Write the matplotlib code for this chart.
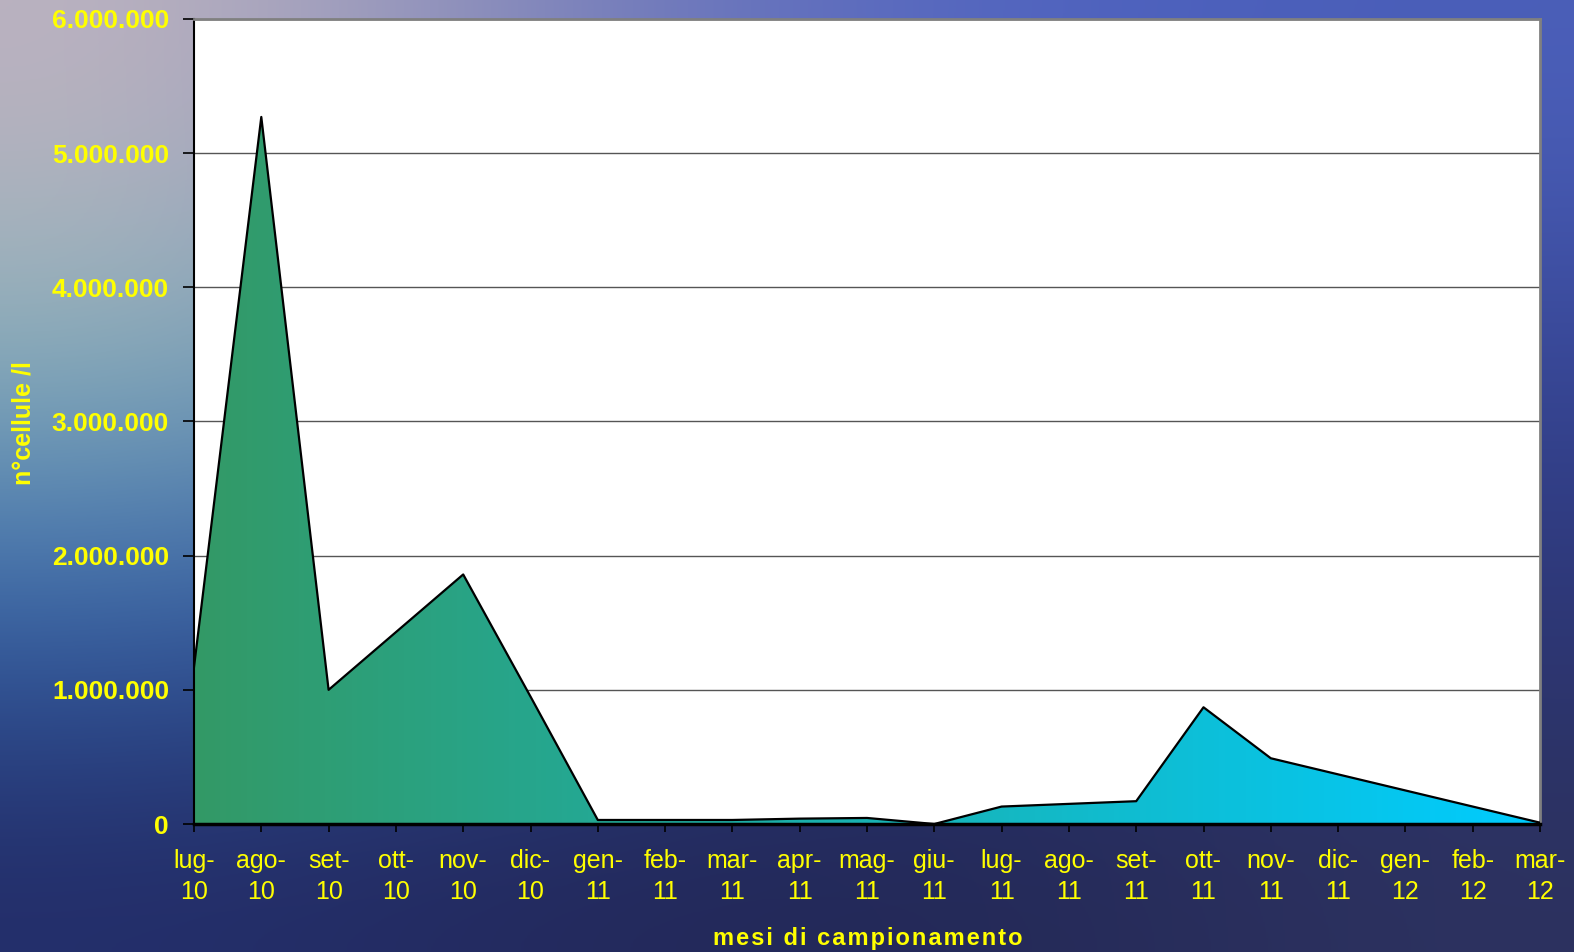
import numpy as np
import matplotlib.pyplot as plt
from matplotlib.colors import LinearSegmentedColormap
from matplotlib.ticker import FuncFormatter

plt.rcParams['font.family'] = ['Liberation Sans', 'DejaVu Sans']

# data
mesi = ["lug-\n10", "ago-\n10", "set-\n10", "ott-\n10", "nov-\n10", "dic-\n10",
        "gen-\n11", "feb-\n11", "mar-\n11", "apr-\n11", "mag-\n11", "giu-\n11",
        "lug-\n11", "ago-\n11", "set-\n11", "ott-\n11", "nov-\n11", "dic-\n11",
        "gen-\n12", "feb-\n12", "mar-\n12"]
cellule = [1170000, 5270000, 1000000, 1430000, 1860000, 950000,
           30000, 30000, 30000, 40000, 45000, 0,
           130000, 150000, 170000, 870000, 490000, 370000,
           250000, 130000, 10000]

yellow = "#FFFF00"

fig = plt.figure(figsize=(15.74, 9.52), dpi=100)

# background (sea photo approximation)
bg = fig.add_axes([0, 0, 1, 1])
bg_colors = np.array([
    [[190, 180, 192], [120, 125, 185], [80, 100, 195], [75, 95, 185]],
    [[140, 180, 185], [95, 140, 180], [60, 85, 165], [55, 70, 150]],
    [[55, 105, 175], [45, 75, 150], [40, 55, 125], [45, 55, 120]],
    [[35, 45, 105], [35, 40, 90], [35, 40, 85], [45, 50, 95]],
]) / 255.0
bg.imshow(bg_colors, aspect='auto', interpolation='bicubic', extent=(0, 1, 0, 1))
bg.set_xlim(0, 1)
bg.set_ylim(0, 1)
bg.axis('off')

ax = fig.add_axes([194 / 1574, 1 - 824 / 952, (1540 - 194) / 1574, (824 - 19) / 952])
ax.set_facecolor("white")

x = np.arange(len(cellule))

# gradient area fill
cmap = LinearSegmentedColormap.from_list("g", ["#339966", "#00CCFF"])
grad = np.linspace(0, 1, 256).reshape(1, -1)
im = ax.imshow(grad, cmap=cmap, aspect='auto', extent=(0, len(x) - 1, 0, 6000000), zorder=2)
poly = ax.fill_between(x, cellule, 0, facecolor='none', edgecolor='none')
im.set_clip_path(poly.get_paths()[0], transform=ax.transData)
ax.plot(x, cellule, color="black", lw=1.6, zorder=3)

ax.set_xlim(0, len(x) - 1)
ax.set_ylim(0, 6000000)
ax.set_yticks(np.arange(0, 6000001, 1000000))
ax.yaxis.set_major_formatter(FuncFormatter(lambda v, p: "{:,.0f}".format(v).replace(",", ".")))
ax.grid(axis='y', color="#555555", lw=1.0, zorder=1)
ax.set_axisbelow(True)

ax.set_xticks(x)
ax.set_xticklabels(mesi, color=yellow, fontsize=18, linespacing=1.35)
for lab in ax.get_yticklabels():
    lab.set_color(yellow)
    lab.set_fontsize(19)
    lab.set_fontweight('bold')

ax.tick_params(axis='y', direction='out', length=8, width=1.2, color="black", pad=10)
ax.tick_params(axis='x', direction='out', length=6, width=1.2, color="black", pad=12)

ax.spines['left'].set_color("black")
ax.spines['left'].set_linewidth(1.5)
ax.spines['bottom'].set_color("black")
ax.spines['bottom'].set_linewidth(2.5)
ax.spines['bottom'].set_zorder(4)
ax.spines['top'].set_color("#808080")
ax.spines['top'].set_linewidth(2)
ax.spines['right'].set_color("#808080")
ax.spines['right'].set_linewidth(2)

fig.text(868 / 1574, 1 - 939 / 952, "\u200a".join("mesi di campionamento"),
         color=yellow, fontsize=17, fontweight='bold', ha='center', va='center')
fig.text(24 / 1574, 1 - 423 / 952, "n°cellule /l", color=yellow, fontsize=18,
         fontweight='bold', rotation=90, ha='center', va='center')

fig.savefig("out.png", dpi=100)
